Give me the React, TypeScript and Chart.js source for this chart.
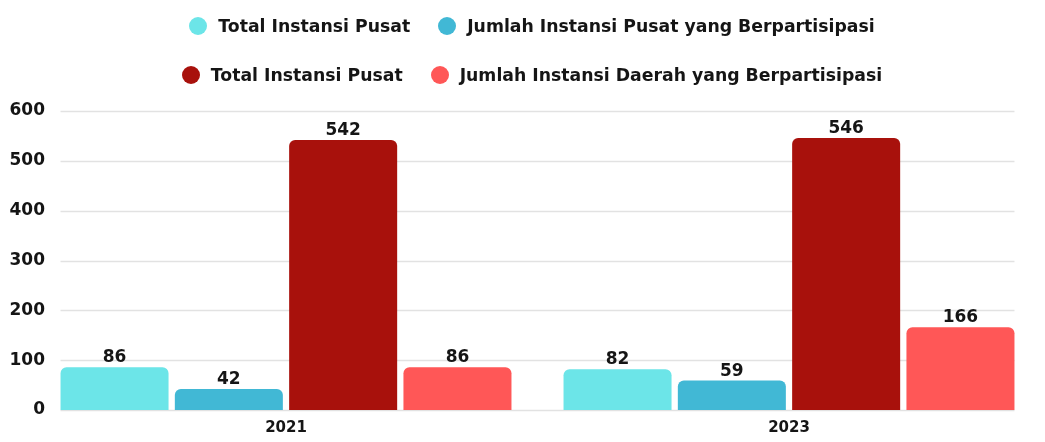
import React, { useEffect, useRef } from "react";
import { Chart, registerables } from "chart.js";

Chart.register(...registerables);

const categories = ["2021", "2023"];
const seriesLabels = [
  "Total Instansi Pusat",
  "Jumlah Instansi Pusat yang Berpartisipasi",
  "Total Instansi Pusat",
  "Jumlah Instansi Daerah yang Berpartisipasi",
];
const totalInstansiPusat = [86, 82];
const jumlahPusatBerpartisipasi = [42, 59];
const totalInstansiDaerah = [542, 546];
const jumlahDaerahBerpartisipasi = [86, 166];
const yTickValues = [0, 100, 200, 300, 400, 500, 600];
const seriesColors = ["#6ce5e8", "#41b8d5", "#a8110c", "#ff5757"];

const NUM_FONT = "'DejaVu Sans', sans-serif";
const TEXT_FONT = "'DejaVu Sans', sans-serif";
const INK = "#151515";

const gridPlugin = {
  id: "customGrid",
  beforeDatasetsDraw(chart: any) {
    const { ctx } = chart;
    const y = chart.scales.y;
    const first = chart.getDatasetMeta(0).data[0];
    const lastMeta = chart.getDatasetMeta(chart.data.datasets.length - 1);
    const last = lastMeta.data[lastMeta.data.length - 1];
    if (!first || !last) return;
    const x0 = first.x - first.width / 2;
    const x1 = last.x + last.width / 2;
    ctx.save();
    ctx.strokeStyle = "#e2e2e2";
    ctx.lineWidth = 1.5;
    y.ticks.forEach((t: any) => {
      const py = Math.round(y.getPixelForValue(t.value)) + 0.5;
      ctx.beginPath();
      ctx.moveTo(x0, py);
      ctx.lineTo(x1, py);
      ctx.stroke();
    });
    ctx.restore();
  },
};

const valueLabelPlugin = {
  id: "valueLabels",
  afterDatasetsDraw(chart: any) {
    const { ctx } = chart;
    ctx.save();
    ctx.fillStyle = INK;
    ctx.font = `bold 17px ${NUM_FONT}`;
    ctx.textAlign = "center";
    ctx.textBaseline = "alphabetic";
    chart.data.datasets.forEach((ds: any, i: number) => {
      const meta = chart.getDatasetMeta(i);
      meta.data.forEach((el: any, j: number) => {
        ctx.fillText(String(ds.data[j]), el.x, el.y - 5);
      });
    });
    ctx.restore();
  },
};

function LegendRow({ items, top }: { items: number[]; top: number }) {
  return (
    <div
      style={{
        position: "absolute",
        top,
        left: 0,
        width: 1064,
        height: 24,
        display: "flex",
        alignItems: "center",
        justifyContent: "center",
        gap: 28,
      }}
    >
      {items.map((i) => (
        <div key={i} style={{ display: "flex", alignItems: "center" }}>
          <span
            style={{
              display: "inline-block",
              width: 18,
              height: 18,
              borderRadius: "50%",
              background: seriesColors[i],
              marginRight: 11,
            }}
          />
          <span
            style={{
              fontFamily: TEXT_FONT,
              fontWeight: 700,
              fontSize: 17.3,
              color: INK,
              whiteSpace: "nowrap",
            }}
          >
            {seriesLabels[i]}
          </span>
        </div>
      ))}
    </div>
  );
}

export default function App() {
  const canvasRef = useRef<HTMLCanvasElement | null>(null);

  useEffect(() => {
    if (!canvasRef.current) return;
    const seriesData = [
      totalInstansiPusat,
      jumlahPusatBerpartisipasi,
      totalInstansiDaerah,
      jumlahDaerahBerpartisipasi,
    ];
    const chart = new Chart(canvasRef.current, {
      type: "bar",
      data: {
        labels: categories,
        datasets: seriesData.map((d, i) => ({
          label: seriesLabels[i],
          data: d,
          backgroundColor: seriesColors[i],
          borderRadius: 6,
          borderSkipped: "bottom",
          categoryPercentage: 0.909,
          barPercentage: 0.945,
        })),
      },
      options: {
        animation: false,
        responsive: false,
        maintainAspectRatio: false,
        layout: { padding: { top: 111, bottom: 6, left: 0, right: 4.5 } },
        plugins: {
          legend: { display: false },
          tooltip: { enabled: false },
        },
        scales: {
          x: {
            offset: true,
            grid: { display: false, drawTicks: false },
            border: { display: false },
            afterFit: (s: any) => {
              s.height = 26;
              s.paddingLeft = 0;
              s.paddingRight = 0;
            },
            ticks: {
              color: INK,
              padding: 9,
              font: { family: NUM_FONT, size: 15, weight: "bold" },
            },
          },
          y: {
            min: 0,
            max: 600,
            grid: { display: false, drawTicks: false },
            border: { display: false },
            afterBuildTicks: (s: any) => {
              s.ticks = yTickValues.map((v) => ({ value: v }));
            },
            afterFit: (s: any) => {
              s.width = 34.5;
              s.paddingTop = 0;
              s.paddingBottom = 0;
            },
            ticks: {
              mirror: true,
              crossAlign: "far",
              color: INK,
              padding: -25,
              font: { family: NUM_FONT, size: 17, weight: "bold" },
            },
          },
        },
      },
      plugins: [gridPlugin, valueLabelPlugin],
    });
    return () => chart.destroy();
  }, []);

  return (
    <div
      style={{
        position: "fixed",
        left: 0,
        top: 0,
        width: 1045,
        height: 442,
        background: "#ffffff",
        overflow: "hidden",
      }}
    >
      <canvas
        ref={canvasRef}
        width={1045}
        height={442}
        style={{ position: "absolute", left: 0, top: 0, width: 1045, height: 442 }}
      />
      <LegendRow items={[0, 1]} top={14} />
      <LegendRow items={[2, 3]} top={63} />
    </div>
  );
}
